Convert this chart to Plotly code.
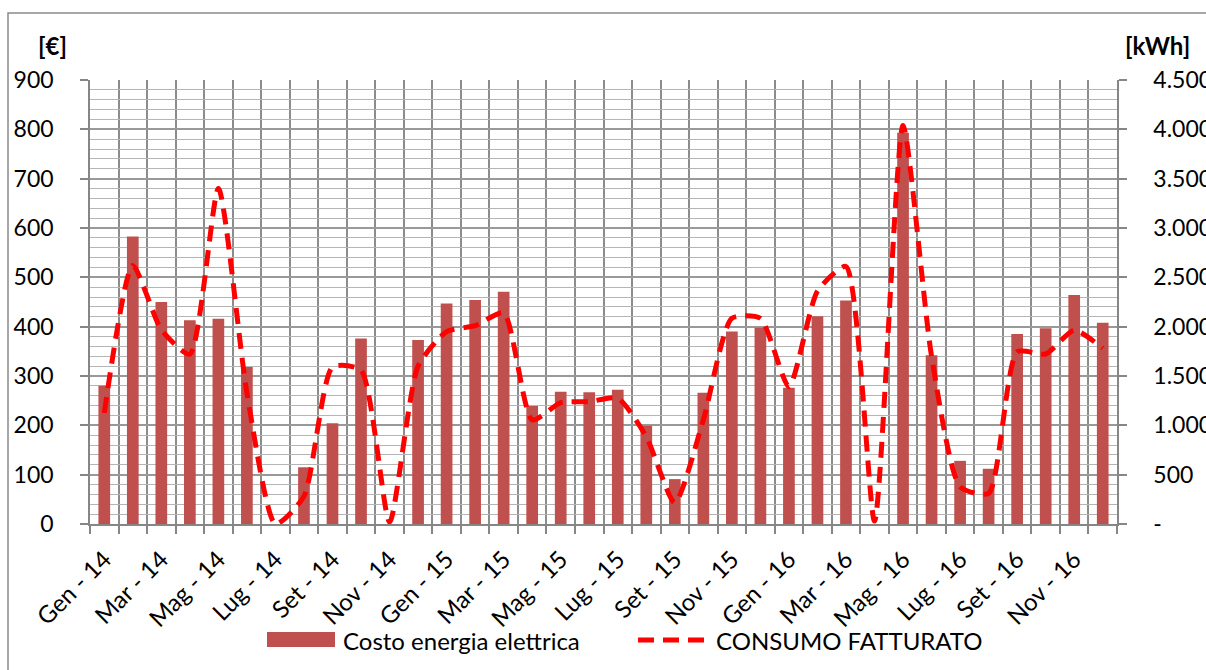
import plotly.graph_objects as go

# Monthly series, Jan 2014 - Dec 2016
months = ["Gen - 14", "Feb - 14", "Mar - 14", "Apr - 14", "Mag - 14", "Giu - 14",
          "Lug - 14", "Ago - 14", "Set - 14", "Ott - 14", "Nov - 14", "Dic - 14",
          "Gen - 15", "Feb - 15", "Mar - 15", "Apr - 15", "Mag - 15", "Giu - 15",
          "Lug - 15", "Ago - 15", "Set - 15", "Ott - 15", "Nov - 15", "Dic - 15",
          "Gen - 16", "Feb - 16", "Mar - 16", "Apr - 16", "Mag - 16", "Giu - 16",
          "Lug - 16", "Ago - 16", "Set - 16", "Ott - 16", "Nov - 16", "Dic - 16"]

# Cost of electricity [EUR]
costo = [280, 583, 450, 413, 416, 318, 0, 115, 204, 376, 0, 373,
         447, 454, 471, 239, 268, 267, 272, 199, 91, 266, 390, 398,
         276, 421, 453, 0, 793, 342, 128, 112, 385, 397, 464, 408]

# Billed consumption [kWh]
consumo = [1125, 2620, 1970, 1720, 3400, 1330, 0, 280, 1590, 1560, 20, 1600,
           1950, 2010, 2140, 1055, 1230, 1240, 1275, 885, 215, 1055, 2085, 2085,
           1390, 2360, 2610, 30, 4040, 1700, 378, 310, 1745, 1723, 1965, 1780]

left_ticks = [0, 100, 200, 300, 400, 500, 600, 700, 800, 900]
right_ticks = [0, 500, 1000, 1500, 2000, 2500, 3000, 3500, 4000, 4500]
right_labels = ["-", "500", "1.000", "1.500", "2.000", "2.500", "3.000", "3.500", "4.000", "4.500"]

FONT = "Lato"
FS = 24
BAR_COLOR = "#C0504D"
LINE_COLOR = "#FF0000"
AXIS_GREY = "#868686"

W_PX, H_PX = 1206, 670
L, R, T, B = 90, 1117, 80, 524


def px(x):
    return (x - L) / (R - L)


def py(y):
    return (B - y) / (B - T)


idx = list(range(len(months)))

fig = go.Figure()
fig.add_trace(go.Bar(x=idx, y=costo, marker=dict(color=BAR_COLOR, line=dict(width=0)),
                     width=0.41, name="Costo energia elettrica", yaxis="y"))
fig.add_trace(go.Scatter(x=idx, y=consumo, mode="lines", yaxis="y2",
                         name="CONSUMO FATTURATO",
                         line=dict(color=LINE_COLOR, width=5, dash="16px,9px",
                                   shape="spline", smoothing=0.6)))

fig.update_layout(
    width=W_PX, height=H_PX,
    margin=dict(l=L, r=W_PX - R, t=T, b=H_PX - B, pad=0, autoexpand=False),
    paper_bgcolor="white", plot_bgcolor="white",
    showlegend=False,
    font=dict(family=FONT, size=FS, color="#000000"),
    xaxis=dict(
        range=[-0.5, len(months) - 0.5], automargin=False,
        tickmode="array", tickvals=idx[::2], ticktext=months[::2],
        tickangle=-45, ticks="", showgrid=False, zeroline=False,
        showline=True, linecolor=AXIS_GREY, linewidth=1.5,
        ticklabelstandoff=10,
        tickfont=dict(family=FONT, size=FS),
        minor=dict(tickmode="linear", tick0=-0.5, dtick=1, ticks="outside",
                   ticklen=8, tickcolor=AXIS_GREY, tickwidth=1.5,
                   showgrid=True, gridcolor="#8c8c8c", gridwidth=1.5),
    ),
    yaxis=dict(
        range=[0, 900], tickmode="array", tickvals=left_ticks, automargin=False,
        ticks="outside", ticklen=8, tickcolor=AXIS_GREY, tickwidth=1.5,
        showline=True, linecolor=AXIS_GREY, linewidth=1.5,
        showgrid=True, gridcolor="#999999", gridwidth=1.5, zeroline=False,
        ticklabelstandoff=22, tickfont=dict(family=FONT, size=23),
        minor=dict(tickmode="linear", tick0=0, dtick=20, showgrid=True,
                   gridcolor="#b5b5b5", gridwidth=1.2, ticks=""),
    ),
    yaxis2=dict(
        range=[0, 4500], overlaying="y", side="right", automargin=False,
        tickmode="array", tickvals=right_ticks, ticktext=right_labels,
        ticks="outside", ticklen=8, tickcolor=AXIS_GREY, tickwidth=1.5,
        showline=True, linecolor=AXIS_GREY, linewidth=1.5,
        showgrid=False, zeroline=False, ticklabelstandoff=22,
        tickfont=dict(family=FONT, size=23),
    ),
)

# Axis unit labels
fig.add_annotation(x=px(52), y=py(46), xref="paper", yref="paper", showarrow=False,
                   xanchor="center", yanchor="middle",
                   text="<b>[€]</b>", font=dict(family=FONT, size=FS))
fig.add_annotation(x=px(1157), y=py(46), xref="paper", yref="paper", showarrow=False,
                   xanchor="center", yanchor="middle",
                   text="<b>[kWh]</b>", font=dict(family=FONT, size=FS))

# Outer chart frame
fig.add_shape(type="rect", xref="paper", yref="paper",
              x0=px(8), x1=px(1215), y0=py(13), y1=py(690),
              line=dict(color="#8a8a8a", width=1.5), fillcolor="rgba(0,0,0,0)", layer="below")

# Legend drawn beneath the axis labels
fig.add_shape(type="rect", xref="paper", yref="paper",
              x0=px(267), x1=px(335), y0=py(632), y1=py(647),
              fillcolor=BAR_COLOR, line=dict(width=0))
fig.add_annotation(x=px(341), y=py(640), xref="paper", yref="paper", showarrow=False,
                   xanchor="left", yanchor="middle", text="Costo energia elettrica",
                   font=dict(family=FONT, size=FS))
fig.add_shape(type="line", xref="paper", yref="paper",
              x0=px(638), x1=px(704), y0=py(640), y1=py(640),
              line=dict(color=LINE_COLOR, width=5, dash="16px,9px"))
fig.add_annotation(x=px(714), y=py(640), xref="paper", yref="paper", showarrow=False,
                   xanchor="left", yanchor="middle", text="CONSUMO FATTURATO",
                   font=dict(family=FONT, size=FS))

fig.write_html("out.html")
